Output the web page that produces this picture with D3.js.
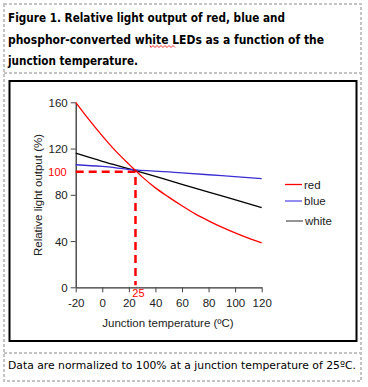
<!DOCTYPE html>
<html><head><meta charset="utf-8">
<script src="https://cdn.jsdelivr.net/npm/d3@7"></script>
<style>body{margin:0;background:#fff}svg{display:block}</style>
</head><body>
<script>
const titleLines = ["Figure 1. Relative light output of red, blue and","phosphor-converted white LEDs as a function of the","junction temperature."];
const footerText = "Data are normalized to 100% at a junction temperature of 25\u00BAC.";
const xTicks = [-20,0,20,40,60,80,100,120];
const yTicks = [0,40,80,120,160];
const redT =   [-20,-10,0,10,20,25,30,40,50,60,70,80,90,100,110,120];
const redV =   [160,145,131,118,106.5,101,95.5,86,78,70.5,63.5,57.5,52,47,42.5,38.5];
const blueT =  [-20,0,25,60,90,120];
const blueV =  [106,104.5,101.5,99,96.5,94];
const whiteT = [-20,0,25,60,90,120];
const whiteV = [116,109,101,89,79,69];
const legendNames = ["red","blue","white"];
const legendColors = ["#ff0000","#8a80f0","#888888"];
const refT = 25, refV = 100;

const W=368,H=387;
const svg=d3.select("body").append("svg").attr("width",W).attr("height",H);
const dash={stroke:"#c4c4c4","stroke-width":2,"stroke-dasharray":"3,2",fill:"none"};
function apply(sel,o){for(const k in o)sel.attr(k,o[k]);return sel;}
apply(svg.append("rect").attr("x",4).attr("y",4).attr("width",357).attr("height",377),dash);
apply(svg.append("line").attr("x1",4).attr("x2",361).attr("y1",73).attr("y2",73),dash);
apply(svg.append("line").attr("x1",4).attr("x2",361).attr("y1",353).attr("y2",353),dash);

// title
const tw=[277,316,130];
titleLines.forEach((t,i)=>{
  svg.append("text").attr("x",8).attr("y",22+i*21.5).attr("font-family","DejaVu Sans, Verdana, sans-serif")
   .attr("font-weight","bold").attr("font-size",11.8).attr("fill","#000")
   .attr("textLength",tw[i]).attr("lengthAdjust","spacingAndGlyphs").text(t);
});
// spellcheck squiggle under LEDs
const sq=d3.path();sq.moveTo(150,45.5);
for(let i=0;i<13;i++){sq.lineTo(151+i*2,i%2?45.5:47.5);}
svg.append("path").attr("d",sq.toString()).attr("stroke","#ff0000").attr("stroke-width",0.8).attr("fill","none");

// footer
svg.append("text").attr("x",8).attr("y",369).attr("font-family","Tahoma, DejaVu Sans, Verdana, sans-serif")
  .attr("font-size",11).attr("fill","#000").attr("textLength",348).attr("lengthAdjust","spacingAndGlyphs").text(footerText);

// chart box
svg.append("rect").attr("x",9.5).attr("y",81).attr("width",347).attr("height",260).attr("fill","#fff").attr("stroke","#000").attr("stroke-width",2);

const x=d3.scaleLinear().domain([-20,120]).range([75.7,261.7]);
const y=d3.scaleLinear().domain([0,160]).range([287.3,102.3]);
const font="Liberation Sans, Arial, sans-serif";

const gx=svg.append("g").attr("transform",`translate(0,${y(0)})`)
  .call(d3.axisBottom(x).tickValues(xTicks).tickFormat(d=>String(d)).tickSize(5).tickPadding(4).tickSizeOuter(0));
const gy=svg.append("g").attr("transform",`translate(${x(-20)},0)`)
  .call(d3.axisLeft(y).tickValues(yTicks).tickFormat(d=>String(d)).tickSize(5).tickPadding(3).tickSizeOuter(0));
[gx,gy].forEach(g=>{
  g.selectAll("text").attr("font-family",font).attr("font-size",11.5).attr("fill","#222");
  g.selectAll("line").attr("stroke","#444");
  g.select(".domain").attr("stroke","#333").attr("stroke-width",1.3);
});
gx.selectAll("text").attr("dy","0.95em");
gy.selectAll("text").attr("dy","0.35em");

svg.append("text").attr("x",168).attr("y",327).attr("text-anchor","middle").attr("font-family",font)
  .attr("font-size",11.5).attr("fill","#222").text("Junction temperature (\u00BAC)");
svg.append("text").attr("transform",`translate(42,195) rotate(-90)`).attr("text-anchor","middle")
  .attr("font-family",font).attr("font-size",11.5).attr("fill","#222").text("Relative light output (%)");

// reference dashed lines
svg.append("path").attr("d",`M${x(-20)},${y(refV)}H${x(refT)}V${y(0)-2}`).attr("fill","none")
  .attr("stroke","#ff0000").attr("stroke-width",2.5).attr("stroke-dasharray","8,5");
svg.append("text").attr("x",x(-20)-9).attr("y",y(refV)).attr("dy","0.35em").attr("text-anchor","end")
  .attr("font-family",font).attr("font-size",11).attr("fill","#ff0000").text(refV);
svg.append("text").attr("x",x(refT)+3).attr("y",y(0)+10).attr("text-anchor","middle")
  .attr("font-family",font).attr("font-size",11).attr("fill","#ff0000").text(refT);

const line=d3.line().curve(d3.curveCatmullRom);
function draw(T,V,c){
  svg.append("path").attr("d",line(T.map((t,i)=>[x(t),y(V[i])]))).attr("fill","none")
   .attr("stroke",c).attr("stroke-width",1.3);
}
draw(whiteT,whiteV,"#000");
draw(blueT,blueV,"#3a2ed2");
draw(redT,redV,"#ff0000");

const ly=[184.5,201,221];
legendNames.forEach((n,i)=>{
  const lx = i===2?286:285;
  svg.append("line").attr("x1",lx).attr("x2",lx+17).attr("y1",ly[i]).attr("y2",ly[i])
    .attr("stroke",legendColors[i]).attr("stroke-width",i===0?1.3:1.8);
  svg.append("text").attr("x",lx+19).attr("y",ly[i]).attr("dy","0.35em").attr("font-family",font)
    .attr("font-size",11.5).attr("fill","#222").text(n);
});
</script>
</body></html>
